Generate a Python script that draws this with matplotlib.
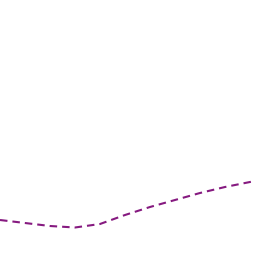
import matplotlib
matplotlib.use("Agg")
import matplotlib.pyplot as plt

xs = [0, 25, 50, 75, 100, 125, 150, 175, 200, 225, 255]
ys = [36, 33, 30, 28.5, 32, 41, 49, 56, 63, 69, 75]

fig = plt.figure(figsize=(2.56, 2.56), dpi=100)
ax = fig.add_axes([0, 0, 1, 1])
ax.plot(xs, ys, color="#861a80", linewidth=1.5, linestyle=(0, (3.6, 2.4)))
ax.set_xlim(0, 256)
ax.set_ylim(0, 256)
ax.axis("off")
fig.savefig("out.png", dpi=100)
